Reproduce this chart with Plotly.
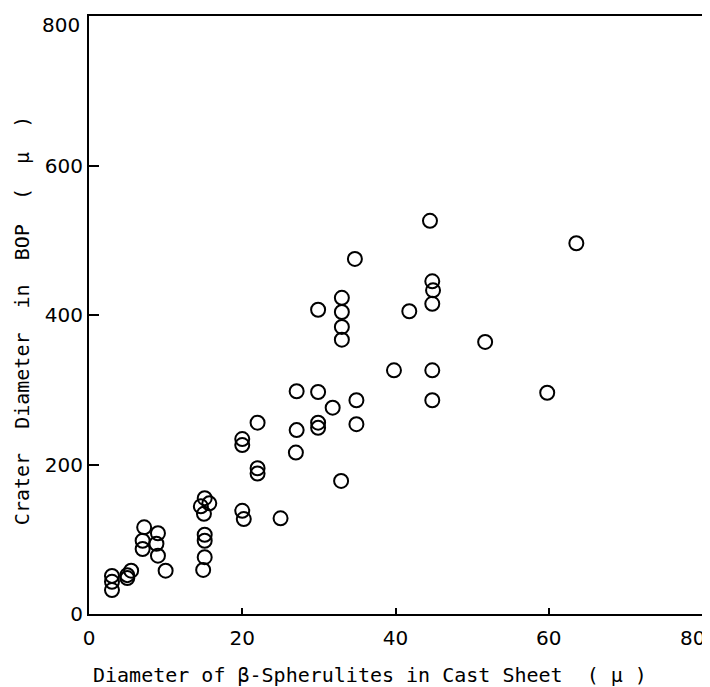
import plotly.graph_objects as go

# Diameter of beta-spherulites in cast sheet (micron)
spherulite_d = [3.0, 3.0, 3.0, 5.0, 5.0, 5.5,
                7.2, 7.0, 7.0, 9.0, 8.8, 9.0, 10.0,
                14.6, 15.1, 15.7, 15.0, 15.1, 15.1, 15.1, 14.9,
                20.0, 20.0, 20.0, 20.2,
                22.0, 22.0, 22.0, 25.0,
                27.1, 27.1, 27.0,
                29.9, 29.9, 29.9, 31.8, 32.9, 34.9, 34.9,
                34.7, 29.9, 33.0, 33.0, 33.0, 33.0,
                41.8, 44.8, 44.9, 44.8, 39.8, 44.8,
                44.5, 51.7, 44.8, 59.8, 63.6]
# Crater diameter in BOP (micron)
crater_d = [32, 43, 51, 48, 52, 58,
            116, 98, 87, 108, 94, 78, 58,
            144, 155, 148, 134, 106, 98, 76, 59,
            234, 226, 138, 127,
            256, 195, 188, 128,
            298, 246, 216,
            297, 256, 249, 276, 178, 286, 254,
            475, 407, 423, 404, 384, 367,
            405, 445, 433, 415, 326, 326,
            526, 364, 286, 296, 496]

x_ticks = [0, 20, 40, 60, 80]
y_ticks = [0, 200, 400, 600, 800]

x_title = "Diameter of β-Spherulites in Cast Sheet  ( μ )"
y_title = "Crater  Diameter  in  BOP  (  μ  )"

font = "DejaVu Sans"
title_font = "DejaVu Sans Mono"
tick_size = 20

fig = go.Figure()
fig.add_trace(go.Scatter(
    x=spherulite_d, y=crater_d, mode="markers",
    marker=dict(symbol="circle-open", size=14, color="black",
                line=dict(width=2, color="black")),
    showlegend=False, hoverinfo="x+y",
))

# page has an 8px body margin, so the figure is sized to fit the window
fig.update_layout(
    width=702, height=679,
    margin=dict(l=81, r=8, t=8, b=73, autoexpand=False),
    paper_bgcolor="white", plot_bgcolor="white",
    font=dict(family=font, color="black"),
)
# the last tick label on each axis is drawn pulled inward, as in the original
fig.update_xaxes(
    range=[0, 80], tickvals=x_ticks,
    ticktext=[str(v) for v in x_ticks[:-1]] + [""],
    ticks="inside", ticklen=6, tickwidth=1.5, tickcolor="black",
    showline=True, linewidth=2, linecolor="black", mirror=True,
    showgrid=False, zeroline=False, automargin=False,
    ticklabeloverflow="allow",
    tickfont=dict(size=tick_size, family=font, color="black"),
    ticklabelstandoff=5,
)
fig.update_yaxes(
    range=[0, 800], tickvals=y_ticks,
    ticktext=[str(v) for v in y_ticks[:-1]] + [""],
    ticks="inside", ticklen=10, tickwidth=1.5, tickcolor="black",
    showline=True, linewidth=2, linecolor="black", mirror=True,
    showgrid=False, zeroline=False, automargin=False,
    ticklabeloverflow="allow",
    tickfont=dict(size=tick_size, family=font, color="black"),
    ticklabelstandoff=0,
)

fig.add_annotation(
    text=str(x_ticks[-1]), xref="x", yref="paper", x=x_ticks[-1], y=0,
    xanchor="right", yanchor="middle", xshift=5, yshift=-24,
    showarrow=False, font=dict(size=tick_size, family=font, color="black"),
)
fig.add_annotation(
    text=str(y_ticks[-1]), xref="paper", yref="y", x=0, y=y_ticks[-1],
    xanchor="right", yanchor="middle", xshift=-7, yshift=-9,
    showarrow=False, font=dict(size=tick_size, family=font, color="black"),
)

fig.add_annotation(
    text=x_title, xref="paper", yref="paper", x=0.458, y=-0.102,
    xanchor="center", yanchor="middle", showarrow=False,
    font=dict(size=20, family=title_font, color="black"),
)
fig.add_annotation(
    text=y_title, xref="paper", yref="paper", x=-0.109, y=0.49,
    xanchor="center", yanchor="middle", showarrow=False, textangle=-90,
    font=dict(size=20, family=title_font, color="black"),
)

fig.write_html("out.html")
